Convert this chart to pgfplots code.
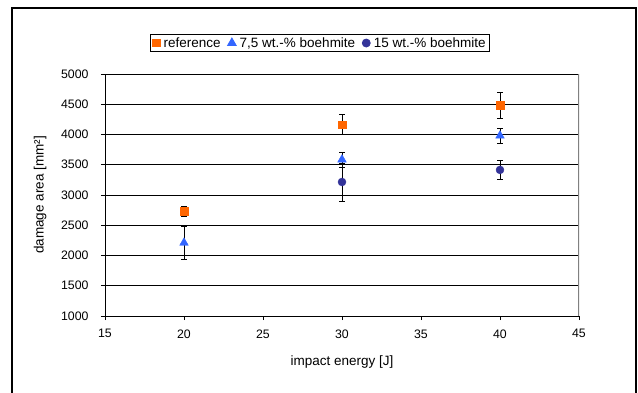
\documentclass[border=0pt]{standalone}
\usepackage{fontspec}
\setmainfont{Liberation Sans}
\usepackage{pgfplots}
\pgfplotsset{compat=1.18}
\begin{document}
\begin{tikzpicture}[x=1pt,y=1pt]
\useasboundingbox (0,0) rectangle (638,392);
\fill[white] (0,0) rectangle (638,392);
\draw[line width=2pt] (12,-10) -- (12,384) -- (636,384) -- (636,-10);
\begin{axis}[
  at={(105pt,76pt)}, anchor=south west,
  scale only axis, width=474pt, height=242pt,
  xmin=15, xmax=45, ymin=1000, ymax=5000,
  xtick={15,20,...,45}, ytick={1000,1500,...,5000},
  axis lines*=left,
  axis line style={black, line width=0.9pt},
  tick align=outside, major tick length=4pt,
  tick style={black, line width=0.8pt},
  ymajorgrids, major grid style={black, line width=0.7pt},
  /pgf/number format/assume math mode=true,
  /pgf/number format/1000 sep={},
  tick label style={font=\fontsize{12.3}{14}\selectfont},
  xticklabel style={yshift=-6pt},
  yticklabel style={xshift=-9pt},
  xlabel={impact energy [J]},
  ylabel={damage area [mm²]},
  label style={font=\fontsize{13.5}{16}\selectfont},
  xlabel style={at={(axis description cs:0.5,-0.19)}, anchor=center},
  ylabel style={at={(axis description cs:-0.137,0.5)}, anchor=center, rotate=0},
  legend columns=3,
  legend style={at={(axis description cs:0.4536,1.128)}, anchor=center,
    draw=black, line width=0.8pt, font=\fontsize{13.5}{16}\selectfont,
    inner xsep=2pt, inner ysep=1pt,
    /tikz/every odd column/.append style={column sep=1.5pt},
    /tikz/every even column/.append style={column sep=5pt}},
  legend cell align=left,
  error bars/y dir=both, error bars/y explicit,
  error bars/error bar style={black, line width=0.8pt},
  error bars/error mark options={rotate=90, mark size=2.8pt, black, line width=0.8pt},
]
\draw[gray, line width=1.2pt] (rel axis cs:1,0) -- (rel axis cs:1,1);
\addplot[only marks, mark=square*, mark size=3.8pt, color={rgb,255:red,255;green,102;blue,0}]
  coordinates {(20,2730) +- (0,85) (30,4160) +- (0,165) (40,4480) +- (0,220)};
\addlegendentry{reference}
\addplot[only marks, mark=triangle*, mark size=5pt, color={rgb,255:red,51;green,102;blue,255}]
  coordinates {(20,2210) +- (0,270) (30,3585) +- (0,125) (40,3980) +- (0,120)};
\addlegendentry{7,5 wt.-\% boehmite}
\addplot[only marks, mark=*, mark size=4pt, color={rgb,255:red,51;green,51;blue,153}]
  coordinates {(30,3215) +- (0,315) (40,3415) +- (0,165)};
\addlegendentry{15 wt.-\% boehmite}
\end{axis}
\end{tikzpicture}
\end{document}
